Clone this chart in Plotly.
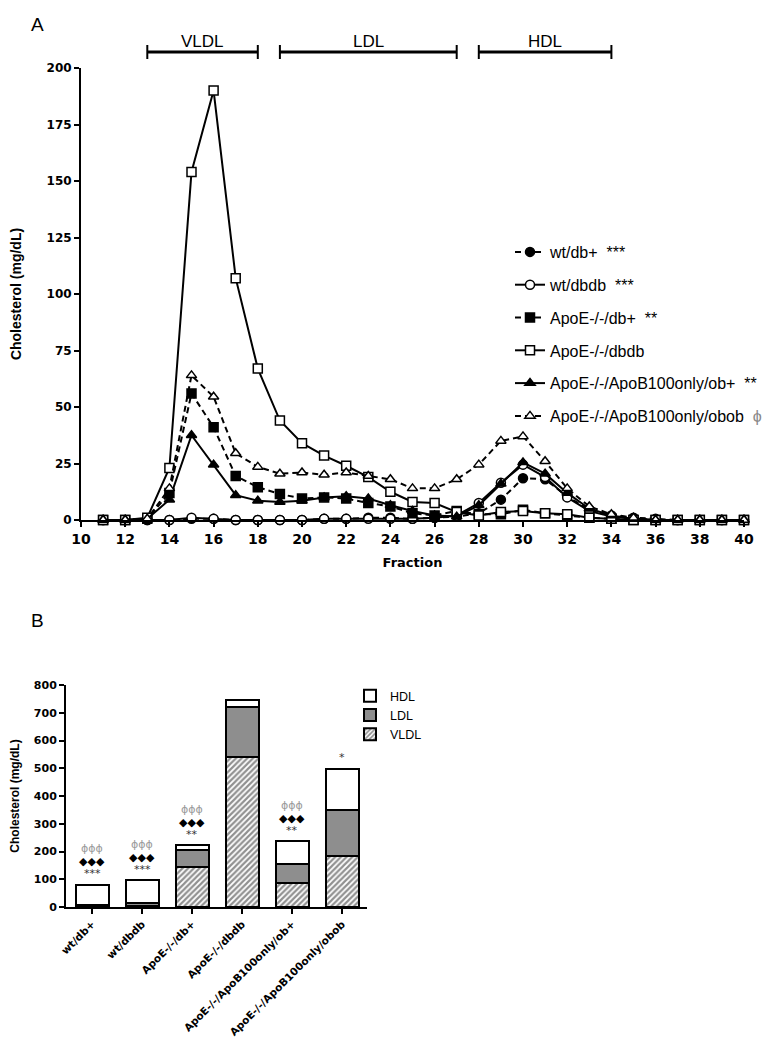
import plotly.graph_objects as go

# Panel A - cholesterol per FPLC fraction
fractions = list(range(11, 41))

wt_db = [0, 0, 0, 0, 0.5, 0.5, 0, 0, 0, 0, 0.5, 0.5, 1, 1, 0.5, 1, 1.5, 3, 9, 18.5,
         18, 10.5, 4.5, 2, 1, 0.5, 0, 0, 0, 0]
wt_dbdb = [0, 0, 0, 0, 1, 0.5, 0, 0, 0, 0, 0.5, 0.5, 0.5, 0.5, 0.5, 1, 2, 7.5, 16.5, 24.5,
           19, 10, 4, 1.5, 0.5, 0, 0, 0, 0, 0]
apoe_db = [0, 0, 0.5, 12, 56, 41, 19.5, 14.5, 11.5, 9.5, 10, 9.5, 7.5, 6, 3, 2, 4, 2.5, 2.5, 4.5,
           3, 2, 1, 0.5, 0, 0, 0, 0, 0, 0]
apoe_dbdb = [0, 0, 1, 23, 154, 190, 107, 67, 44, 34, 28.5, 24, 19, 12.5, 8, 7.5, 3.5, 2, 3.5, 4,
             3, 2.5, 1, 0.5, 0, 0, 0, 0, 0, 0]
b100_ob = [0, 0, 0.5, 9, 37.5, 24.5, 11, 8.5, 8, 8.5, 10, 10.5, 9.5, 6.5, 4, 2, 1.5, 6.5, 16, 25.5,
           20.5, 12, 5, 2, 0.5, 0, 0, 0, 0, 0]
b100_obob = [0, 0, 0.5, 14, 64, 54.5, 29.5, 23.5, 20.5, 21, 20, 21, 19.5, 18, 14, 14, 18, 24.5, 35, 37,
             26, 14, 6, 2.5, 1, 0, 0, 0, 0, 0]

sp = "\u00a0\u00a0"
names_a = ["wt/db+" + sp + "***", "wt/dbdb" + sp + "***", "ApoE-/-/db+" + sp + "**", "ApoE-/-/dbdb",
           "ApoE-/-/ApoB100only/ob+" + sp + "**",
           "ApoE-/-/ApoB100only/obob" + sp + "<span style='color:#888'>ϕ</span>"]

# lipoprotein ranges (fractions)
ranges = [("VLDL", 13, 18), ("LDL", 19, 27), ("HDL", 28, 34)]

# Panel B - stacked totals
groups = ["wt/db+", "wt/dbdb", "ApoE-/-/db+", "ApoE-/-/dbdb",
          "ApoE-/-/ApoB100only/ob+", "ApoE-/-/ApoB100only/obob"]
vldl = [3, 4, 144, 541, 88, 183]
ldl = [6, 9, 63, 181, 66, 168]
hdl = [71, 84, 16, 24, 83, 148]
stars = ["***", "***", "**", "", "**", "*"]
diamonds = ["◆◆◆", "◆◆◆", "◆◆◆", "", "◆◆◆", ""]
phis = ["ϕϕϕ", "ϕϕϕ", "ϕϕϕ", "", "ϕϕϕ", ""]

# page has an 8px body margin, so size the figure to fit inside the window
OFF = 8
W, H = 779 - 2 * OFF, 1050 - 2 * OFF
tick_font = "DejaVu Sans"
text_font = "Liberation Sans, Arial"


def px_x(px):
    return (px - OFF) / W


def px_y(py):
    return 1 - (py - OFF) / H


fig = go.Figure()

styles = [("circle", "black", "6px,4px"), ("circle", "white", "solid"),
          ("square", "black", "6px,4px"), ("square", "white", "solid"),
          ("triangle-up", "black", "solid"), ("triangle-up", "white", "6px,4px")]
data_a = [wt_db, wt_dbdb, apoe_db, apoe_dbdb, b100_ob, b100_obob]

for i, (vals, name, st) in enumerate(zip(data_a, names_a, styles)):
    sym, fill, dash = st
    fig.add_trace(go.Scatter(
        x=fractions, y=vals, name=name, mode="lines+markers",
        line=dict(color="black", width=2, dash=dash),
        marker=dict(symbol=sym, size=9, color=fill, line=dict(color="black", width=1.5)),
        cliponaxis=False, legendgroup="g%d" % i, legend="legend",
        xaxis="x", yaxis="y"))

bar_line = dict(color="black", width=2)
fig.add_trace(go.Bar(x=groups, y=vldl, name="VLDL", width=0.66, xaxis="x2", yaxis="y2",
                     marker=dict(color="white", line=bar_line,
                                 pattern=dict(shape="/", fgcolor="#222", bgcolor="white",
                                              size=4, solidity=0.55)),
                     legend="legend2"))
fig.add_trace(go.Bar(x=groups, y=ldl, name="LDL", width=0.66, xaxis="x2", yaxis="y2",
                     marker=dict(color="#8e8e8e", line=bar_line), legend="legend2"))
fig.add_trace(go.Bar(x=groups, y=hdl, name="HDL", width=0.66, xaxis="x2", yaxis="y2",
                     marker=dict(color="white", line=bar_line), legend="legend2"))

# significance marks above the bars
for g, a, b, c, s, d, p in zip(groups, vldl, ldl, hdl, stars, diamonds, phis):
    top = a + b + c
    for txt, shift, col in [(s, 11, "#333"), (d, 23, "black"), (p, 36, "#999")]:
        if txt:
            fig.add_annotation(x=g, y=top, xref="x2", yref="y2", text=txt, showarrow=False,
                               yanchor="middle", yshift=shift,
                               font=dict(family=tick_font, size=11, color=col))

# lipoprotein brackets above panel A
yb = px_y(52)
for lab, a, b in ranges:
    fig.add_shape(type="line", xref="x", yref="paper", x0=a, x1=b, y0=yb, y1=yb,
                  line=dict(color="black", width=3))
    for xe in (a, b):
        fig.add_shape(type="line", xref="x", yref="paper", x0=xe, x1=xe,
                      y0=yb - 7 / H, y1=yb + 7 / H, line=dict(color="black", width=2))
    fig.add_annotation(x=(a + b) / 2, y=px_y(30), xref="x", yref="paper", text=lab,
                       showarrow=False, font=dict(family=text_font, size=17, color="black"))

for lab, yp in [("A", 25), ("B", 620)]:
    fig.add_annotation(x=px_x(37), y=px_y(yp), xref="paper", yref="paper", text=lab,
                       xanchor="center", yanchor="middle", showarrow=False,
                       font=dict(family=text_font, size=19, color="black"))

axis_common = dict(showline=True, linecolor="black", linewidth=2, ticks="outside",
                   ticklen=5, tickwidth=2, tickcolor="black", showgrid=False,
                   zeroline=False, automargin=False)

fig.update_layout(
    width=W, height=H,
    margin=dict(l=0, r=0, t=0, b=0, autoexpand=False),
    paper_bgcolor="white", plot_bgcolor="white",
    barmode="stack", showlegend=True,
    xaxis=dict(domain=[px_x(81), px_x(744)], range=[10, 40], dtick=2, anchor="y",
               tickfont=dict(family=tick_font, size=14, color="black", weight="bold"),
               title=dict(text="<b>Fraction</b>", standoff=12,
                          font=dict(family=tick_font, size=13, color="black")),
               **axis_common),
    yaxis=dict(domain=[px_y(520), px_y(68)], range=[0, 200], dtick=25, anchor="x",
               tickfont=dict(family=tick_font, size=12, color="black", weight="bold"),
               title=dict(text="<b>Cholesterol (mg/dL)</b>", standoff=22,
                          font=dict(family=text_font, size=14, color="black")),
               **axis_common),
    xaxis2=dict(domain=[px_x(66), px_x(367)], range=[-0.52, 5.5], anchor="y2", tickangle=-45,
                tickfont=dict(family=tick_font, size=10.5, color="black", weight="bold"),
                **axis_common),
    yaxis2=dict(domain=[px_y(907), px_y(685)], range=[0, 800], dtick=100, anchor="x2",
                tickfont=dict(family=tick_font, size=11, color="black", weight="bold"),
                title=dict(text="<b>Cholesterol (mg/dL)</b>", standoff=16,
                           font=dict(family=text_font, size=12, color="black")),
                **axis_common),
    legend=dict(x=px_x(510), y=px_y(235), xanchor="left", yanchor="top",
                font=dict(family=text_font, size=16, color="black"),
                tracegroupgap=9, bgcolor="rgba(0,0,0,0)"),
    legend2=dict(x=px_x(350), y=px_y(681), xanchor="left", yanchor="top",
                 traceorder="reversed",
                 font=dict(family=text_font, size=12.5, color="black"),
                 bgcolor="rgba(0,0,0,0)"),
)

fig.write_html("out.html")
